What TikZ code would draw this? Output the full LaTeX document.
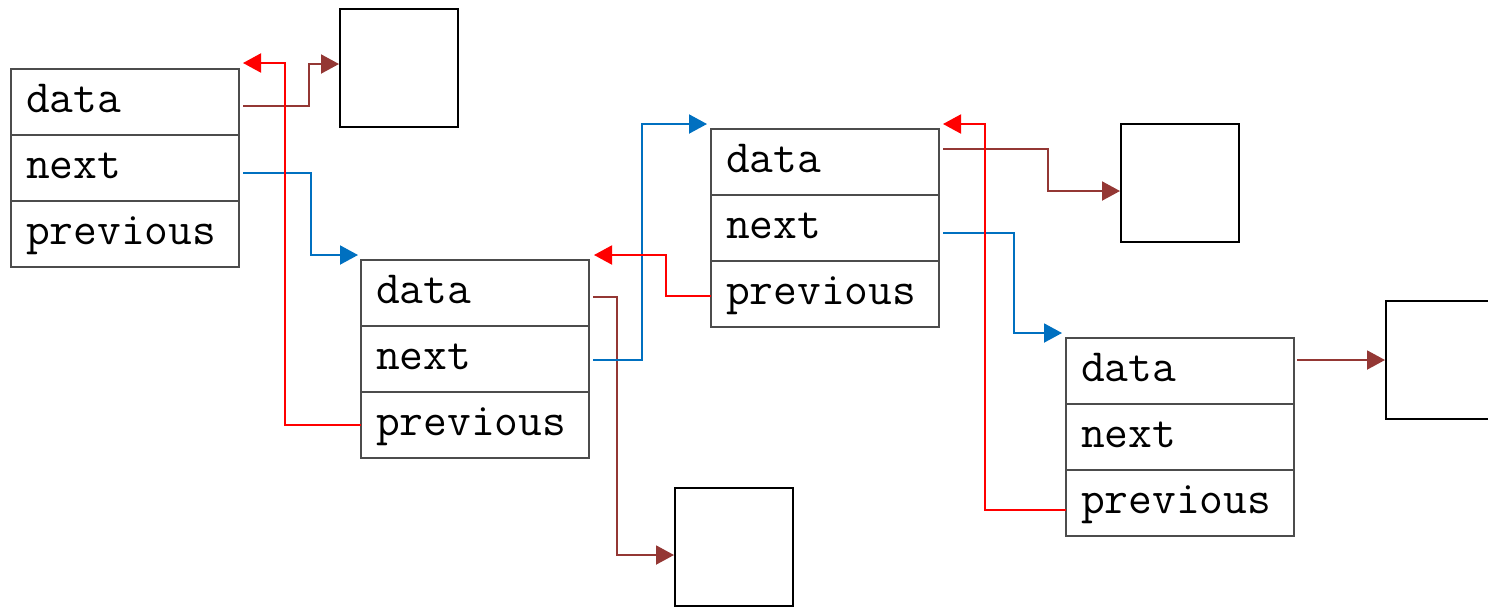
\documentclass[tikz,border=0pt]{standalone}
\usepackage{tikz}
\usetikzlibrary{calc,positioning,arrows.meta}
\definecolor{nextblue}{RGB}{0, 112, 192}
\definecolor{prevred}{RGB}{255, 0, 0}
\definecolor{databrown}{RGB}{148, 55, 52}
\tikzset{
    field/.style={
        draw=black!70,
        line width=0.6pt,
        outer sep=0pt,
        inner xsep=7.5pt,
        text width=99pt,
        minimum height=33pt,
        text height=15pt,
        text depth=5pt,
        align=left,
        font=\ttfamily\fontsize{23.1}{27}\selectfont,
    },
    payload/.style={
        draw,
        line width=1pt,
        minimum size=59pt,
    },
    pointer/.style={
        line width=1pt,
        -{Triangle[length=9pt, width=9.5pt]},
    },
    nextptr/.style={pointer, nextblue},
    prevptr/.style={pointer, prevred},
    dataptr/.style={pointer, databrown},
}

\begin{document}
\begin{tikzpicture}[x=0.5pt, y=-0.5pt]
    \useasboundingbox (0, 0) rectangle (1488, 607);

    % First list node
    \node[field, anchor=north west] (n1data) at (11, 69) {data};
    \node[field, below=0pt of n1data] (n1next) {next};
    \node[field, below=0pt of n1next] (n1prev) {previous};

    % Second list node
    \node[field, anchor=north west] (n2data) at (361, 260) {data};
    \node[field, below=0pt of n2data] (n2next) {next};
    \node[field, below=0pt of n2next] (n2prev) {previous};

    % Third list node
    \node[field, anchor=north west] (n3data) at (711, 129) {data};
    \node[field, below=0pt of n3data] (n3next) {next};
    \node[field, below=0pt of n3next] (n3prev) {previous};

    % Fourth list node
    \node[field, anchor=north west] (n4data) at (1066, 338) {data};
    \node[field, below=0pt of n4data] (n4next) {next};
    \node[field, below=0pt of n4next] (n4prev) {previous};

    % Data objects
    \node[payload] (d1) at (399, 68) {};
    \node[payload] (d2) at (734, 547) {};
    \node[payload] (d3) at (1180, 183) {};
    \node[payload] (d4) at (1445, 360) {};

    % data pointers
    \draw[dataptr] ([xshift=2pt, yshift=-2pt]n1data.east)
      -- ++(66, 0) |- ([yshift=2pt]d1.west);
    \draw[dataptr] ([xshift=2pt, yshift=-2pt]n2data.east)
      -- ++(24, 0) |- ([yshift=-4pt]d2.west);
    \draw[dataptr] ([xshift=2pt, yshift=6.5pt]n3data.east)
      -- ++(105, 0) |- ([yshift=-4pt]d3.west);
    \draw[dataptr] ([xshift=1.5pt, yshift=5.5pt]n4data.east) -- (d4.west);

    % next pointers
    \draw[nextptr] ([xshift=2pt, yshift=-2.5pt]n1next.east)
      -- ++(68, 0) |- ([xshift=-1.5pt, yshift=2.5pt]n2data.north west);
    \draw[nextptr] ([xshift=2pt, yshift=-0.5pt]n2next.east)
      -- ++(49, 0) |- ([xshift=-2pt, yshift=2.5pt]n3data.north west);
    \draw[nextptr] ([xshift=2pt, yshift=-2.5pt]n3next.east)
      -- ++(71, 0) |- ([xshift=-2pt, yshift=2.5pt]n4data.north west);

    % previous pointers
    \draw[prevptr] (n2prev.west)
      -- ++(-76, 0) |- ([xshift=2pt, yshift=3pt]n1data.north east);
    \draw[prevptr] ([yshift=-1pt]n3prev.west)
      -- ++(-45, 0) |- ([xshift=2.5pt, yshift=2.5pt]n2data.north east);
    \draw[prevptr] ([yshift=-3.5pt]n4prev.west)
      -- ++(-81, 0) |- ([xshift=2pt, yshift=2.5pt]n3data.north east);

\end{tikzpicture}
\end{document}
